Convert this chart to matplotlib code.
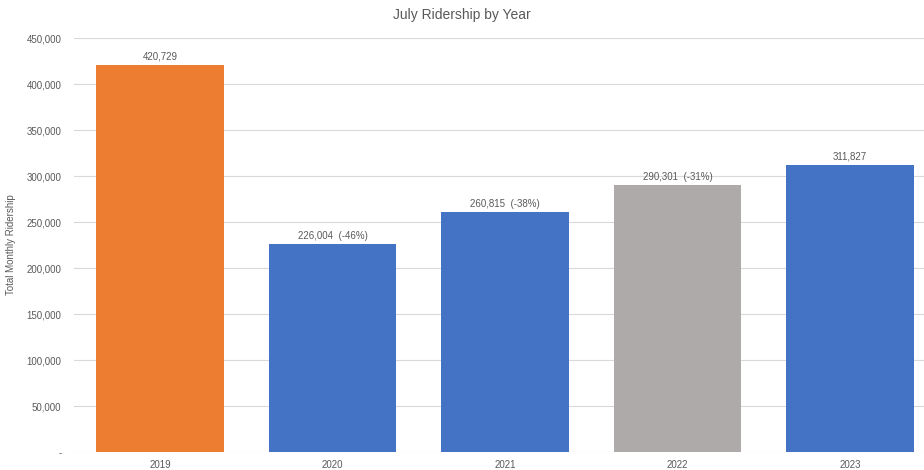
import matplotlib.pyplot as plt
from matplotlib.ticker import FuncFormatter

years = ["2019", "2020", "2021", "2022", "2023"]
riders = [420729, 226004, 260815, 290301, 311827]
pct_change = [None, -46, -38, -31, None]
colors = ["#ED7D31", "#4472C4", "#4472C4", "#AEAAAA", "#4472C4"]

txt = "#595959"
plt.rcParams["font.family"] = ["Liberation Sans", "DejaVu Sans"]

fig = plt.figure(figsize=(9.24, 4.70), dpi=100)
ax = fig.add_axes([74 / 924, 18 / 470, 1 - 74 / 924, 414 / 470])

x = range(len(years))
bars = ax.bar(x, riders, width=0.74, color=colors, zorder=3)

for b, v, p in zip(bars, riders, pct_change):
    label = f"{v:,}" if p is None else f"{v:,}  ({p}%)"
    ax.text(b.get_x() + b.get_width() / 2, v + 3500, label,
            ha="center", va="bottom", fontsize=7, color=txt)

ax.set_xlim(-0.5, 4.43)
ax.set_ylim(0, 450000)
ax.set_yticks(range(0, 450001, 50000))
ax.yaxis.set_major_formatter(FuncFormatter(lambda v, _: "-" if v == 0 else f"{int(v):,}"))
ax.set_xticks(list(x))
ax.set_xticklabels(years)
ax.tick_params(length=0, labelsize=7, colors=txt)
ax.tick_params(axis="x", pad=6)
ax.tick_params(axis="y", pad=9)
ax.grid(axis="y", color="#D9D9D9", linewidth=0.8, zorder=0)
for s in ax.spines.values():
    s.set_visible(False)

ax.set_ylabel("Total Monthly Ridership", fontsize=7, color=txt, labelpad=8)
fig.text(0.5, 1 - 15 / 470, "July Ridership by Year", ha="center", va="center",
         fontsize=10, color=txt)

fig.savefig("out.png", dpi=100)
